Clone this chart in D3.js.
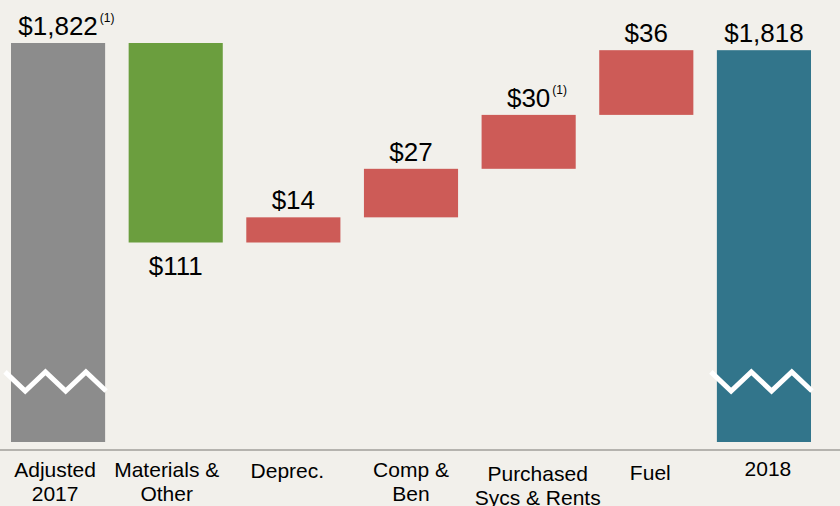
<!DOCTYPE html>
<html>
<head>
<meta charset="utf-8">
<script src="https://cdn.jsdelivr.net/npm/d3@7/dist/d3.min.js"></script>
<style>
  html, body { margin: 0; padding: 0; background: #f2f0eb; }
  svg { display: block; font-family: "Liberation Sans", Arial, sans-serif; }
</style>
</head>
<body>
<svg id="chart" width="840" height="506"></svg>
<script>
// ---- data ----
const categories = [["Adjusted", "2017"], ["Materials &", "Other"], ["Deprec."], ["Comp &", "Ben"], ["Purchased", "Sycs & Rents"], ["Fuel"], ["2018"]];
const kinds = ["total", "delta", "delta", "delta", "delta", "delta", "total"];
const values = [1822, -111, 14, 27, 30, 36, 1818];
const labels = ["$1,822", "$111", "$14", "$27", "$30", "$36", "$1,818"];
const footnotes = ["(1)", "", "", "", "(1)", "", ""];
const axisMin = 1600;
const breakRange = [1628.4, 1639];

// ---- layout ----
const W = 840, H = 506;
const colors = { start: "#8c8c8c", decrease: "#6b9e3e", increase: "#cd5b57", end: "#32758b" };
const labelNudge = [[-3, 0], [-9, 0], [-6, 1], [0, 0], [9, 4], [4, 3], [4, -1]];

const svg = d3.select("#chart");
svg.append("rect").attr("width", W).attr("height", H).attr("fill", "#f2f0eb");

const x = d3.scaleBand().domain(d3.range(categories.length)).range([11, 811]).paddingInner(0.2).paddingOuter(0);
const y = d3.scaleLinear().domain([axisMin, 1822]).range([442, 43]);

// compute waterfall segments
let running = 0;
const bars = values.map((v, i) => {
  let lo, hi, color;
  if (kinds[i] === "total") {
    lo = axisMin; hi = v; running = v;
    color = i === 0 ? colors.start : colors.end;
  } else {
    const prev = running;
    running = prev + v;
    lo = Math.min(prev, running); hi = Math.max(prev, running);
    color = v < 0 ? colors.decrease : colors.increase;
  }
  return { i, lo, hi, color, v, kind: kinds[i] };
});

svg.append("g").selectAll("rect").data(bars).join("rect")
  .attr("x", d => x(d.i))
  .attr("width", x.bandwidth())
  .attr("y", d => y(d.hi))
  .attr("height", d => y(d.lo) - y(d.hi))
  .attr("fill", d => d.color);

// axis break zigzags on total bars
const breakTop = y(breakRange[1]), breakBot = y(breakRange[0]);
bars.filter(d => d.kind === "total").forEach(d => {
  const x0 = x(d.i) - 6, x1 = x(d.i) + x.bandwidth() + 1;
  const n = 5, pts = [];
  for (let k = 0; k <= n; k++) {
    pts.push([x0 + (x1 - x0) * k / n, k % 2 === 0 ? breakTop : breakBot]);
  }
  svg.append("path").attr("d", d3.line()(pts))
    .attr("fill", "none").attr("stroke", "#ffffff").attr("stroke-width", 5)
    .attr("stroke-linejoin", "miter");
});

// baseline axis
const xAxis = d3.axisBottom(x).tickSize(0).tickFormat("");
const axisG = svg.append("g").attr("transform", "translate(0,450)").call(xAxis);
axisG.select(".domain").remove();
svg.append("line").attr("x1", 0).attr("x2", W).attr("y1", 450).attr("y2", 450)
  .attr("stroke", "#b5b3ae").attr("stroke-width", 2);

// value labels
const vl = svg.append("g").selectAll("text").data(bars).join("text")
  .attr("x", d => x(d.i) + x.bandwidth() / 2)
  .attr("y", d => (d.kind === "delta" && d.v < 0) ? y(d.lo) + 32 : y(d.hi) - 8)
  .attr("text-anchor", "middle")
  .attr("font-size", 26)
  .attr("fill", "#000")
  .text(d => labels[d.i]);
// footnote superscripts placed after the value text
vl.each(function(d) {
  if (!footnotes[d.i]) return;
  const bb = this.getBBox();
  svg.append("text")
    .attr("x", bb.x + bb.width + 2)
    .attr("y", +d3.select(this).attr("y") - 13)
    .attr("font-size", 12)
    .attr("fill", "#000")
    .text(footnotes[d.i]);
});

// category labels
const cl = svg.append("g").selectAll("text").data(categories).join("text")
  .attr("text-anchor", "middle")
  .attr("font-size", 21)
  .attr("fill", "#000")
  .attr("transform", (d, i) => `translate(${x(i) + x.bandwidth() / 2 + labelNudge[i][0]},${477 + labelNudge[i][1]})`);
cl.selectAll("tspan").data(d => d).join("tspan")
  .attr("x", 0)
  .attr("dy", (d, k) => k === 0 ? 0 : 24)
  .text(d => d);
</script>
</body>
</html>
